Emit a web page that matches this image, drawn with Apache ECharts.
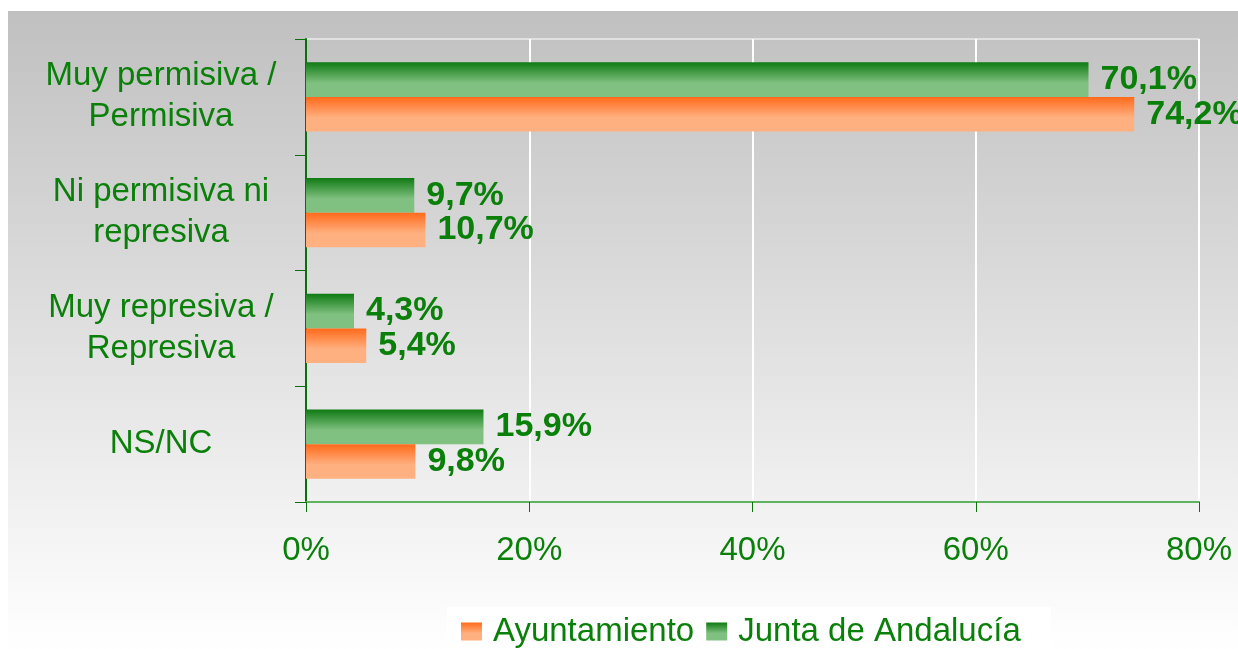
<!DOCTYPE html>
<html>
<head>
<meta charset="utf-8">
<script src="https://cdn.jsdelivr.net/npm/echarts@6/dist/echarts.min.js"></script>
<style>
  html, body { margin: 0; padding: 0; background: #fff; }
  #chart { width: 1238px; height: 649px; }
</style>
</head>
<body>
<div id="chart"></div>
<script>
// datos
var categorias = ['Muy permisiva /\nPermisiva', 'Ni permisiva ni\nrepresiva', 'Muy represiva /\nRepresiva', 'NS/NC'];
var ayuntamiento = [74.2, 10.7, 5.4, 9.8];
var junta = [70.1, 9.7, 4.3, 15.9];
var ticksX = [0, 20, 40, 60, 80];

var verde = '#0a800a';

function grad(c1, c2) {
    return new echarts.graphic.LinearGradient(0, 0, 0, 1, [
        { offset: 0, color: c1 },
        { offset: 0.6, color: c2 },
        { offset: 1, color: c2 }
    ]);
}

var mychart = echarts.init(document.getElementById('chart'));

var option = {
    animation: false,
    graphic: [
        {
            type: 'rect', z: -10, silent: true,
            shape: { x: 8, y: 11, width: 1230, height: 638 },
            style: {
                fill: new echarts.graphic.LinearGradient(0, 0, 0, 1, [
                    { offset: 0, color: '#c0c0c0' },
                    { offset: 1, color: '#ffffff' }
                ])
            }
        },
        {
            type: 'rect', z: -9, silent: true,
            shape: { x: 447, y: 607, width: 604, height: 42 },
            style: { fill: '#ffffff' }
        }
    ],
    grid: {
        left: 306, right: 39, top: 39, bottom: 147,
        show: true, borderColor: '#ffffff', borderWidth: 1, backgroundColor: 'transparent'
    },
    legend: {
        data: ['Ayuntamiento', 'Junta de Andalucía'],
        top: 610,
        left: 456,
        itemWidth: 21, itemHeight: 18, itemGap: 12,
        icon: 'rect',
        textStyle: { color: verde, fontSize: 33, fontFamily: 'Liberation Sans, Arial', padding: [0, 0, 0, 6] }
    },
    xAxis: {
        type: 'value',
        min: 0, max: 80, interval: 20,
        axisLine: { show: true, lineStyle: { color: '#5fb35f', width: 2 } },
        axisTick: { show: true, length: 10, lineStyle: { color: '#0a700a' } },
        splitLine: { show: true, lineStyle: { color: '#ffffff', width: 2 } },
        axisLabel: {
            color: verde, fontSize: 33, fontFamily: 'Liberation Sans, Arial', margin: 32,
            formatter: function (v) { return ticksX.indexOf(v) >= 0 ? v + '%' : ''; }
        }
    },
    yAxis: {
        type: 'category',
        data: categorias,
        inverse: true,
        axisLine: { show: true, lineStyle: { color: '#0a700a', width: 2 } },
        axisTick: { show: true, length: 11, lineStyle: { color: '#0a700a' } },
        axisLabel: {
            color: verde, fontSize: 33, fontFamily: 'Liberation Sans, Arial',
            align: 'center', margin: 145, lineHeight: 41
        }
    },
    series: [
        {
            name: 'Junta de Andalucía',
            type: 'bar',
            data: junta,
            barCategoryGap: '40%',
            barGap: '0%',
            itemStyle: { color: grad('#0e7a12', '#80c080') },
            label: {
                show: true, position: 'right', distance: 12,
                color: verde, fontWeight: 'bold', fontSize: 34, fontFamily: 'Liberation Sans, Arial',
                formatter: function (p) { return p.value.toFixed(1).replace('.', ',') + '%'; }
            }
        },
        {
            name: 'Ayuntamiento',
            type: 'bar',
            data: ayuntamiento,
            barCategoryGap: '40%',
            barGap: '0%',
            itemStyle: { color: grad('#ff6a1a', '#ffb080') },
            label: {
                show: true, position: 'right', distance: 12,
                color: verde, fontWeight: 'bold', fontSize: 34, fontFamily: 'Liberation Sans, Arial',
                formatter: function (p) { return p.value.toFixed(1).replace('.', ',') + '%'; }
            }
        }
    ]
};

mychart.setOption(option);
</script>
</body>
</html>
